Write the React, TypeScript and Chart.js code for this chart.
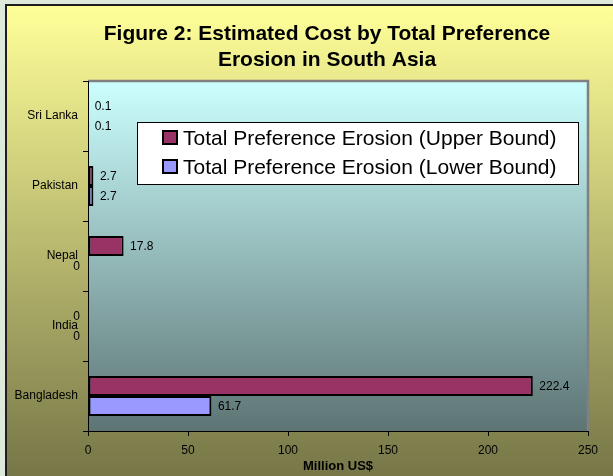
import React, { useEffect, useRef } from "react";
import { Chart, registerables } from "chart.js";

Chart.register(...registerables);

const categories = ["Sri Lanka", "Pakistan", "Nepal", "India", "Bangladesh"];
const upperBound = [0.1, 2.7, 17.8, 0, 222.4];
const lowerBound = [0.1, 2.7, 0, 0, 61.7];
const seriesNames = [
  "Total Preference Erosion (Upper Bound)",
  "Total Preference Erosion (Lower Bound)",
];
const seriesColors = ["#993366", "#9999ff"];
const titleLines = ["Figure 2: Estimated Cost by Total Preference", "Erosion in South Asia"];
const xAxisTitle = "Million US$";
const xTicks = [0, 50, 100, 150, 200, 250];

const FONT = "'Liberation Sans', Arial, Helvetica, sans-serif";

const backgroundPlugin = {
  id: "bgPanel",
  beforeDraw(chart: any) {
    const { ctx, width, height, chartArea: ca } = chart;
    ctx.save();
    ctx.fillStyle = "#dce9db";
    ctx.fillRect(0, 0, width, height);
    ctx.fillStyle = "#1e1e1e";
    ctx.fillRect(5, 4, width - 5, height - 4);
    const g = ctx.createLinearGradient(0, 6, 0, height);
    g.addColorStop(0, "#ffff99");
    g.addColorStop(1, "#767648");
    ctx.fillStyle = g;
    ctx.fillRect(7, 6, width - 7, height - 6);

    const pg = ctx.createLinearGradient(0, ca.top, 0, ca.bottom);
    pg.addColorStop(0, "#ccffff");
    pg.addColorStop(1, "#5d7474");
    ctx.fillStyle = pg;
    ctx.fillRect(ca.left, ca.top, ca.right - ca.left, ca.bottom - ca.top);

    ctx.strokeStyle = "#808080";
    ctx.lineWidth = 2.5;
    ctx.beginPath();
    ctx.moveTo(ca.left, ca.top);
    ctx.lineTo(ca.right, ca.top);
    ctx.lineTo(ca.right, ca.bottom);
    ctx.stroke();
    ctx.restore();
  },
};

const labelsPlugin = {
  id: "valueLabels",
  afterDatasetsDraw(chart: any) {
    const { ctx, chartArea: ca } = chart;
    ctx.save();
    ctx.font = `12px ${FONT}`;
    ctx.fillStyle = "#000";
    ctx.textBaseline = "middle";
    chart.data.datasets.forEach((ds: any, di: number) => {
      const meta = chart.getDatasetMeta(di);
      meta.data.forEach((el: any, i: number) => {
        const v = ds.data[i];
        const { x, y } = el.getProps(["x", "y"], true);
        if (v === 0) {
          ctx.textAlign = "right";
          ctx.fillText(String(v), ca.left - 8, y + 1);
        } else {
          ctx.textAlign = "left";
          ctx.fillText(String(v), x + 6.5, y + 1);
        }
      });
    });
    ctx.restore();
  },
};

const decorPlugin = {
  id: "decor",
  afterDraw(chart: any) {
    const { ctx, chartArea: ca } = chart;
    ctx.save();
    // Title
    ctx.fillStyle = "#000";
    ctx.font = `bold 21px ${FONT}`;
    ctx.textAlign = "center";
    ctx.textBaseline = "alphabetic";
    ctx.fillText(titleLines[0], 327, 40);
    ctx.fillText(titleLines[1], 327, 66);

    // X axis title
    ctx.font = `bold 13px ${FONT}`;
    ctx.fillText(xAxisTitle, (ca.left + ca.right) / 2, 470);

    // Legend
    const lx = 137, ly = 122, lw = 441, lh = 62;
    ctx.fillStyle = "#ffffff";
    ctx.fillRect(lx, ly, lw, lh);
    ctx.strokeStyle = "#000";
    ctx.lineWidth = 1;
    ctx.strokeRect(lx + 0.5, ly + 0.5, lw, lh);
    ctx.font = `21px ${FONT}`;
    ctx.textAlign = "left";
    const rows = [145, 174];
    seriesNames.forEach((name, i) => {
      const base = rows[i];
      ctx.fillStyle = "#000";
      ctx.fillRect(162, base - 15, 16, 15);
      ctx.fillStyle = seriesColors[i];
      ctx.fillRect(164, base - 13, 12, 11);
      ctx.fillStyle = "#000";
      ctx.fillText(name, 183, base);
    });
    ctx.restore();
  },
};

export default function App() {
  const ref = useRef<HTMLCanvasElement | null>(null);
  useEffect(() => {
    if (!ref.current) return;
    const chart = new Chart(ref.current, {
      type: "bar",
      data: {
        labels: categories,
        datasets: [
          {
            label: seriesNames[0],
            data: upperBound,
            backgroundColor: seriesColors[0],
            borderColor: "#000",
            borderWidth: 2,
            borderSkipped: false,
            barPercentage: 1,
            categoryPercentage: 0.57,
          },
          {
            label: seriesNames[1],
            data: lowerBound,
            backgroundColor: seriesColors[1],
            borderColor: "#000",
            borderWidth: 2,
            borderSkipped: false,
            barPercentage: 1,
            categoryPercentage: 0.57,
          },
        ],
      },
      options: {
        indexAxis: "y",
        responsive: false,
        animation: false,
        layout: { padding: { top: 81, right: 25, left: 0, bottom: 0 } },
        plugins: {
          legend: { display: false },
          title: { display: false },
          tooltip: { enabled: false },
        },
        scales: {
          x: {
            min: 0,
            max: 250,
            afterBuildTicks: (s: any) => {
              s.ticks = xTicks.map((v) => ({ value: v }));
            },
            afterFit: (s: any) => {
              s.height = 45;
            },
            ticks: {
              color: "#000",
              font: { family: FONT, size: 12 },
              padding: 7,
              maxRotation: 0,
            },
            grid: {
              drawOnChartArea: false,
              drawTicks: true,
              tickLength: 5,
              color: "#000",
            },
            border: { display: true, color: "#000", width: 1 },
          },
          y: {
            afterFit: (s: any) => {
              s.width = 88;
            },
            ticks: {
              color: "#000",
              font: { family: FONT, size: 12 },
              padding: 5,
            },
            grid: {
              drawOnChartArea: false,
              drawTicks: true,
              tickLength: 5,
              color: "#000",
              offset: true,
            },
            border: { display: true, color: "#000", width: 1 },
          },
        },
      },
      plugins: [backgroundPlugin, labelsPlugin, decorPlugin],
    });
    return () => chart.destroy();
  }, []);
  return (
    <div style={{ position: "fixed", left: 0, top: 0, width: 613, height: 476 }}>
      <canvas ref={ref} width={613} height={476} style={{ display: "block" }} />
    </div>
  );
}
